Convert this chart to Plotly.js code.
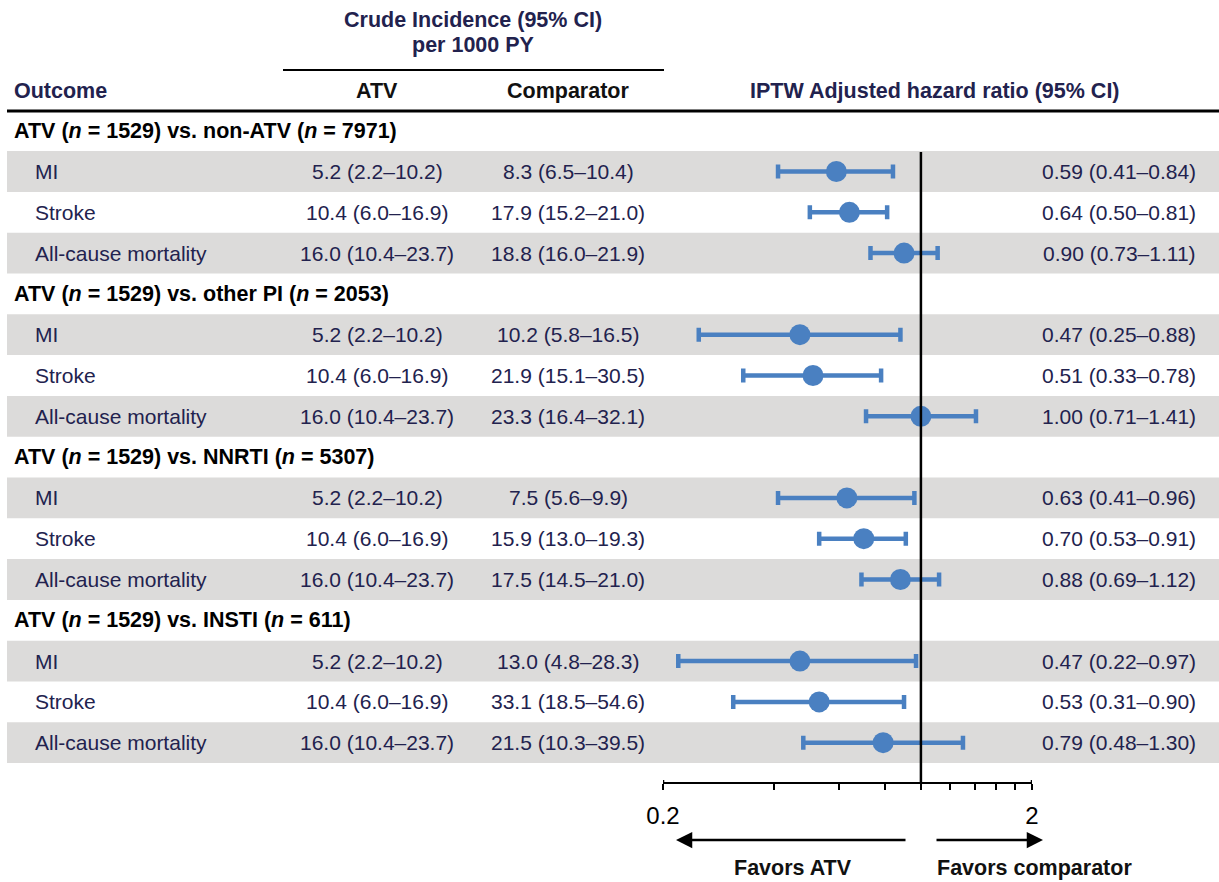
<!DOCTYPE html>
<html>
<head>
<meta charset="utf-8">
<script src="https://cdn.plot.ly/plotly-3.0.1.min.js"></script>
<style>html,body{margin:0;padding:0;background:#fff;}#chart{width:1219px;height:882px;}</style>
</head>
<body>
<div id="chart"></div>
<script>
// ---- data ----
var groups = [
  'ATV (<i>n</i> = 1529) vs. non-ATV (<i>n</i> = 7971)',
  'ATV (<i>n</i> = 1529) vs. other PI (<i>n</i> = 2053)',
  'ATV (<i>n</i> = 1529) vs. NNRTI (<i>n</i> = 5307)',
  'ATV (<i>n</i> = 1529) vs. INSTI (<i>n</i> = 611)'
];
var outcomes = ['MI', 'Stroke', 'All-cause mortality'];

// crude incidence per 1000 PY, ATV arm (same for every comparison)
var atvRate = [5.2, 10.4, 16.0];
var atvLo   = [2.2, 6.0, 10.4];
var atvHi   = [10.2, 16.9, 23.7];

// crude incidence per 1000 PY, comparator arm (group by group, MI/Stroke/Mortality)
var compRate = [8.3, 17.9, 18.8,  10.2, 21.9, 23.3,  7.5, 15.9, 17.5,  13.0, 33.1, 21.5];
var compLo   = [6.5, 15.2, 16.0,  5.8, 15.1, 16.4,   5.6, 13.0, 14.5,  4.8, 18.5, 10.3];
var compHi   = [10.4, 21.0, 21.9, 16.5, 30.5, 32.1,  9.9, 19.3, 21.0,  28.3, 54.6, 39.5];

// IPTW adjusted hazard ratios
var hr   = [0.59, 0.64, 0.90,  0.47, 0.51, 1.00,  0.63, 0.70, 0.88,  0.47, 0.53, 0.79];
var hrLo = [0.41, 0.50, 0.73,  0.25, 0.33, 0.71,  0.41, 0.53, 0.69,  0.22, 0.31, 0.48];
var hrHi = [0.84, 0.81, 1.11,  0.88, 0.78, 1.41,  0.96, 0.91, 1.12,  0.97, 0.90, 1.30];

var axisTicks = [0.2, 0.4, 0.6, 0.8, 1.0, 1.2, 1.4, 1.6, 1.8, 2.0];
var axisTickText = ['0.2', '', '', '', '', '', '', '', '', '2'];
var axisEnds = [0.2, 2.0];

// ---- layout helpers ----
var W = 1219, H = 882;
var ROW0 = 130.7, ROWH = 40.8, AXIS_PX = 782;
function px(x) { return x / W; }
function py(y) { return 1 - y / H; }
var NAVY = '#22224e';
var FONT = 'Liberation Sans, Arial, sans-serif';
var FS = 21;
var FSB = 21.5;

var rowY = [];        // y index of each data row
var annotations = [];
var shapes = [];

groups.forEach(function (g, gi) {
  var headerIdx = gi * 4;
  annotations.push({
    xref: 'paper', yref: 'y', x: px(12), y: headerIdx, xanchor: 'left', yanchor: 'middle',
    text: '<b>' + g + '</b>', showarrow: false, font: {family: FONT, size: FSB, color: '#000'}
  });
  outcomes.forEach(function (o, oi) {
    var k = gi * 3 + oi;
    var yi = headerIdx + 1 + oi;
    rowY.push(yi);
    if (oi !== 1) {
      shapes.push({type: 'rect', xref: 'paper', yref: 'y', x0: px(7), x1: 1,
        y0: yi - 0.5, y1: yi + 0.5, fillcolor: '#dcdbda', line: {width: 0}, layer: 'below'});
    }
    annotations.push({xref: 'paper', yref: 'y', x: px(33), y: yi, xanchor: 'left', yanchor: 'middle',
      text: o, showarrow: false, font: {family: FONT, size: FS, color: NAVY}});
    annotations.push({xref: 'paper', yref: 'y', x: px(377), y: yi, xanchor: 'center', yanchor: 'middle',
      text: atvRate[oi].toFixed(1) + ' (' + atvLo[oi].toFixed(1) + '–' + atvHi[oi].toFixed(1) + ')',
      showarrow: false, font: {family: FONT, size: FS, color: NAVY}});
    annotations.push({xref: 'paper', yref: 'y', x: px(568), y: yi, xanchor: 'center', yanchor: 'middle',
      text: compRate[k].toFixed(1) + ' (' + compLo[k].toFixed(1) + '–' + compHi[k].toFixed(1) + ')',
      showarrow: false, font: {family: FONT, size: FS, color: NAVY}});
    annotations.push({xref: 'paper', yref: 'y', x: px(1198), y: yi, xanchor: 'right', yanchor: 'middle',
      text: hr[k].toFixed(2) + ' (' + hrLo[k].toFixed(2) + '–' + hrHi[k].toFixed(2) + ')',
      showarrow: false, font: {family: FONT, size: FS, color: NAVY}});
  });
});

// header texts
function hdr(text, x, y, anchor, color) {
  annotations.push({xref: 'paper', yref: 'paper', x: px(x), y: py(y), xanchor: anchor, yanchor: 'middle',
    text: '<b>' + text + '</b>', showarrow: false, font: {family: FONT, size: FSB, color: color}});
}
hdr('Crude Incidence (95% CI)', 473, 20, 'center', NAVY);
hdr('per 1000 PY', 473, 45, 'center', NAVY);
hdr('Outcome', 12, 91, 'left', NAVY);
hdr('ATV', 377, 91, 'center', '#111');
hdr('Comparator', 568, 91, 'center', '#111');
hdr('IPTW Adjusted hazard ratio (95% CI)', 935, 91, 'center', NAVY);
hdr('Favors ATV', 793, 868, 'center', '#111');
hdr('Favors comparator', 1034, 868, 'center', '#111');

// arrows
annotations.push({xref: 'paper', yref: 'paper', x: px(676), y: py(840), ax: 231, ay: 0,
  text: '', showarrow: true, arrowhead: 2, arrowsize: 1.3, arrowwidth: 2.5, arrowcolor: '#000', standoff: 0});
annotations.push({xref: 'paper', yref: 'paper', x: px(1043), y: py(840), ax: -108, ay: 0,
  text: '', showarrow: true, arrowhead: 2, arrowsize: 1.3, arrowwidth: 2.5, arrowcolor: '#000', standoff: 0});

// header rules
shapes.push({type: 'line', xref: 'paper', yref: 'paper', x0: px(283), x1: px(664), y0: py(70), y1: py(70),
  line: {color: '#000', width: 2}});
shapes.push({type: 'line', xref: 'paper', yref: 'paper', x0: px(7), x1: 1, y0: py(111), y1: py(111),
  line: {color: '#000', width: 3}});

// y axis range in row units
var yTop = -ROW0 / ROWH;
var yBot = (AXIS_PX - ROW0) / ROWH;

// reference line at HR = 1
shapes.push({type: 'line', xref: 'x', yref: 'y', x0: 1, x1: 1, y0: 0.52, y1: yBot,
  line: {color: '#000', width: 2.5}, layer: 'above'});
// longer end ticks of the axis
axisEnds.forEach(function (v) {
  shapes.push({type: 'line', xref: 'x', yref: 'y', x0: v, x1: v, y0: yBot - 2 / ROWH, y1: yBot + 8 / ROWH,
    line: {color: '#000', width: 2.5}, layer: 'above'});
});

var trace = {
  type: 'scatter', mode: 'markers',
  x: hr, y: rowY,
  marker: {size: 21, color: '#4a80c1'},
  error_x: {
    type: 'data', symmetric: false,
    array: hr.map(function (v, i) { return hrHi[i] - v; }),
    arrayminus: hr.map(function (v, i) { return v - hrLo[i]; }),
    color: '#4a80c1', thickness: 4.5, width: 7
  },
  hoverinfo: 'skip', showlegend: false
};

var layout = {
  width: W, height: H,
  margin: {l: 0, r: 0, t: 0, b: 0},
  paper_bgcolor: '#fff', plot_bgcolor: 'rgba(0,0,0,0)',
  showlegend: false,
  xaxis: {
    type: 'log', domain: [px(663), px(1032)],
    range: [Math.log10(0.2), Math.log10(2)],
    tickmode: 'array', tickvals: axisTicks, ticktext: axisTickText,
    ticks: 'outside', ticklen: 6, tickwidth: 2, tickcolor: '#000',
    ticklabelstandoff: 5,
    showline: true, linewidth: 2, linecolor: '#000',
    showgrid: false, zeroline: false,
    tickfont: {family: FONT, size: 24, color: '#000'},
    fixedrange: true
  },
  yaxis: {
    domain: [1 - AXIS_PX / H, 1],
    range: [yBot, yTop],
    showgrid: false, zeroline: false, showline: false, showticklabels: false, ticks: '',
    fixedrange: true
  },
  shapes: shapes,
  annotations: annotations
};

Plotly.newPlot('chart', [trace], layout, {displayModeBar: false, staticPlot: true});
</script>
</body>
</html>
